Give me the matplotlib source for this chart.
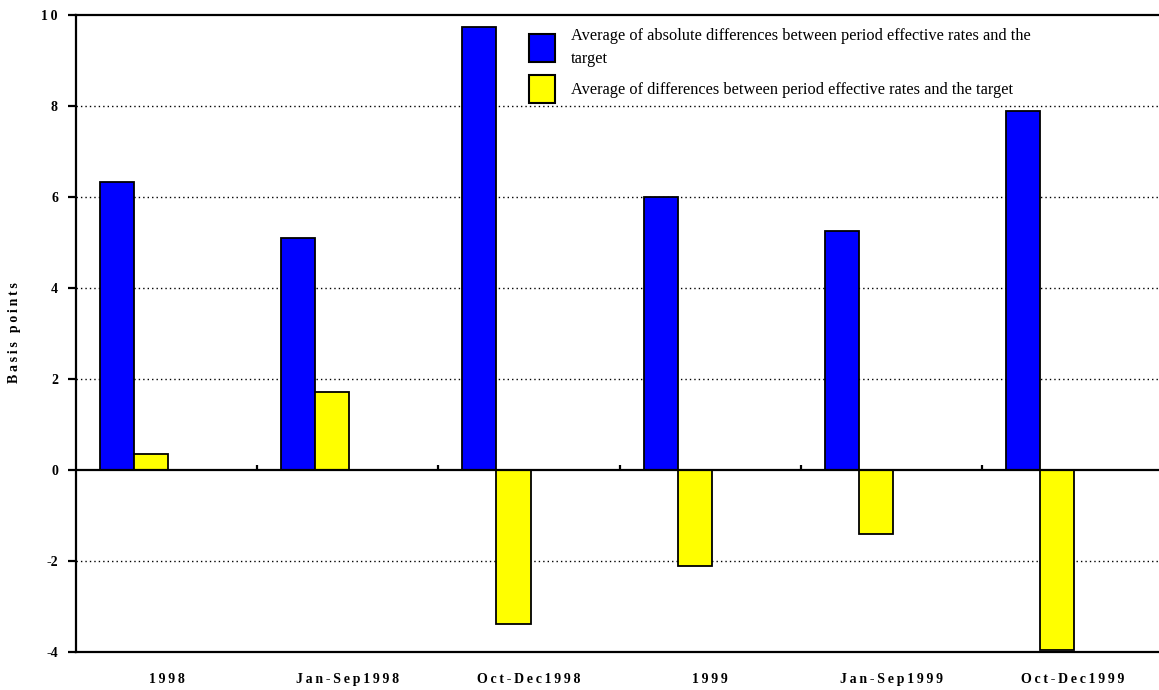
import matplotlib
matplotlib.use('Agg')
import matplotlib.pyplot as plt
import numpy as np
from matplotlib.patches import Patch

# data
categories = ['1998', 'Jan-Sep1998', 'Oct-Dec1998', '1999', 'Jan-Sep1999', 'Oct-Dec1999']
abs_diff = [6.32, 5.09, 9.74, 6.01, 5.26, 7.89]
avg_diff = [0.35, 1.71, -3.38, -2.10, -1.40, -3.95]
yticks = [-4, -2, 0, 2, 4, 6, 8, 10]

SERIF = ['Liberation Serif', 'DejaVu Serif']
SP = '\u2009'


def spaced(s):
    return SP.join(list(s))


W, H = 1159, 690
fig = plt.figure(figsize=(W / 100, H / 100), dpi=100)
ax = fig.add_axes([76 / W, 38 / H, (1163 - 76) / W, (652 - 15) / H])

x = np.arange(len(categories))
bw = 0.188
ax.bar(x - 0.273, abs_diff, bw, color='#0000ff', edgecolor='black', linewidth=1.3, zorder=3)
ax.bar(x - 0.085, avg_diff, bw, color='#ffff00', edgecolor='black', linewidth=1.3, zorder=3)

ax.set_xlim(-0.5, len(categories) - 0.5)
ax.set_ylim(-4, 10)

# gridlines
for v in yticks:
    if v not in (0, 10):
        ax.axhline(v, color='black', linestyle=(0, (1, 2.2)), linewidth=1, zorder=1)
ax.axhline(0, color='black', linewidth=1.6, zorder=4)
# small ticks on zero line between categories
ax.vlines(np.arange(0.5, len(categories) - 0.5), 0, 0.1, color='black', linewidth=1.6, zorder=4)

for s in ['left', 'top', 'bottom']:
    ax.spines[s].set_linewidth(1.6)
ax.spines['right'].set_visible(False)

ax.set_yticks(yticks)
ax.set_yticklabels([str(v) if v < 0 else spaced(str(v)) for v in yticks], fontfamily=SERIF,
                   fontweight='bold', fontsize=10)
ax.tick_params(axis='y', direction='out', length=6, width=1.6, pad=7)
ax.set_xticks(x)
ax.set_xticklabels([spaced(c) for c in categories], fontfamily=SERIF,
                   fontweight='bold', fontsize=10)
ax.tick_params(axis='x', length=0, pad=15)

fig.text(15 / W, 1 - 333 / H, spaced('Basis points'), rotation=90, ha='center', va='center',
         fontfamily=SERIF, fontweight='bold', fontsize=10)

handles = [Patch(facecolor='#0000ff', edgecolor='black', linewidth=1.5),
           Patch(facecolor='#ffff00', edgecolor='black', linewidth=1.5)]
labels = ['Average of absolute differences between period effective rates and the\ntarget',
          'Average of differences between period effective rates and the target']
leg = ax.legend(handles, labels, loc='upper left', bbox_to_anchor=(516 / W, 1 - 15 / H),
                bbox_transform=fig.transFigure, frameon=False,
                prop={'family': SERIF, 'size': 11.8}, handlelength=1.6, handleheight=2.25,
                handletextpad=0.95, labelspacing=0.5, borderpad=0.3)
for t in leg.get_texts():
    t.set_linespacing(1.55)

fig.savefig('out.png', dpi=100)
